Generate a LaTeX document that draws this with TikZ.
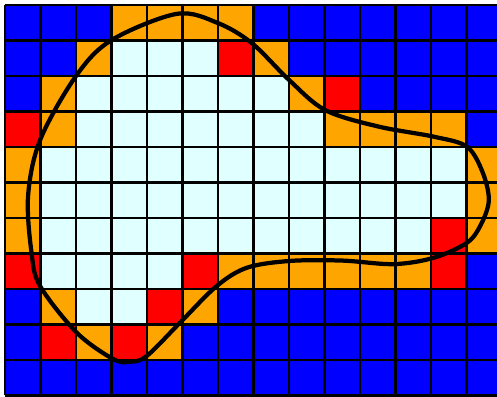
\documentclass[tikz,border=0pt]{standalone}
\definecolor{cellb}{HTML}{0000FF}
\definecolor{cello}{HTML}{FFA500}
\definecolor{cellr}{HTML}{FF0000}
\definecolor{cellc}{HTML}{E0FFFF}
\usepackage{tikz}

\begin{document}
\begin{tikzpicture}
  \useasboundingbox (-0.141,-0.02) rectangle (13.86,11.141);
  % Cells, top row first
  \foreach \row [count=\j from 0] in {
    {b,b,b,o,o,o,o,b,b,b,b,b,b,b},
    {b,b,o,c,c,c,r,o,b,b,b,b,b,b},
    {b,o,c,c,c,c,c,c,o,r,b,b,b,b},
    {r,o,c,c,c,c,c,c,c,o,o,o,o,b},
    {o,c,c,c,c,c,c,c,c,c,c,c,c,o},
    {o,c,c,c,c,c,c,c,c,c,c,c,c,o},
    {o,c,c,c,c,c,c,c,c,c,c,c,r,o},
    {r,c,c,c,c,r,o,o,o,o,o,o,r,b},
    {b,o,c,c,r,o,b,b,b,b,b,b,b,b},
    {b,r,o,r,o,b,b,b,b,b,b,b,b,b},
    {b,b,b,b,b,b,b,b,b,b,b,b,b,b}} {
    \foreach \c [count=\i from 0] in \row {
      \fill[cell\c] (\i,10-\j) rectangle ++(1,1);
    }
  }
  \draw[line width=1.8pt] (0,0) grid (14,11);

  % Closed curve
  \draw[line width=3.4pt] plot[smooth cycle, tension=0.55] coordinates {
    (4.84,10.75) (6.0,10.49) (6.96,9.92) (8.0,8.89) (9.02,8.04)
    (10.5,7.58) (12.08,7.29) (13.01,7.01) (13.45,6.3) (13.63,5.5)
    (13.4,4.8) (13.01,4.30) (12.08,3.88) (10.95,3.70) (9.5,3.8)
    (8.03,3.79) (6.82,3.60) (5.96,3.08) (4.93,2.05) (3.99,1.11)
    (3.52,0.95) (3.04,1.03) (2.02,1.77) (0.99,3.08) (0.75,4.0)
    (0.65,5.62) (0.99,7.20) (2.0,9.0) (3.0,10.01)};
\end{tikzpicture}
\end{document}
